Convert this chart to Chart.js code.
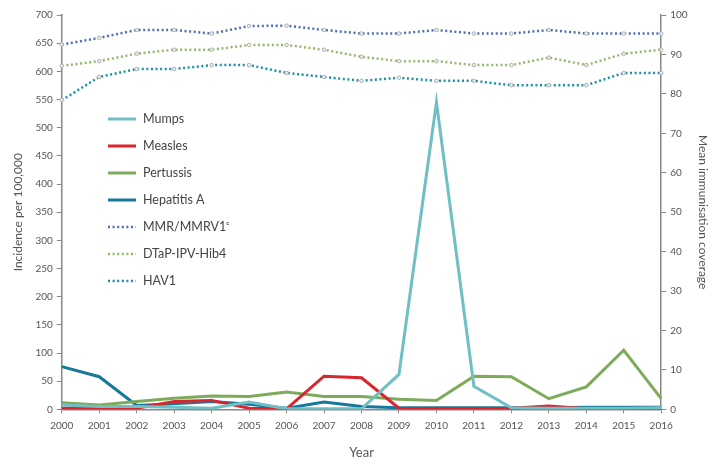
<!DOCTYPE html>
<html><head><meta charset="utf-8">
<script src="https://cdn.jsdelivr.net/npm/chart.js@4/dist/chart.umd.min.js"></script>
<style>html,body{margin:0;padding:0;background:#fff}#w{width:725px;height:465px}</style>
</head><body><div id="w"><canvas id="c"></canvas></div>
<script>
const years = ['2000','2001','2002','2003','2004','2005','2006','2007','2008','2009','2010','2011','2012','2013','2014','2015','2016'];
const mumps     = [8,5,5,4,2,13,1,1,1,62,545,41,3,2,2,2,3];
const measles   = [2,2,2,14,16,2,1,59,56,2,1,1,2,6,1,1,1];
const pertussis = [12,8,14,20,24,23,31,23,23,18,16,59,58,19,40,105,19];
const hepA      = [76,58,7,10,14,9,2,13,5,3,3,3,3,3,4,4,4];
const mmr  = [92.5,94.2,96.2,96.2,95.3,97.2,97.3,96.2,95.3,95.3,96.2,95.3,95.3,96.2,95.3,95.3,95.3];
const dtap = [87.1,88.3,90.2,91.2,91.2,92.4,92.4,91.2,89.4,88.3,88.3,87.3,87.3,89.2,87.3,90.2,91.2];
const hav  = [78.4,84.3,86.3,86.3,87.3,87.3,85.3,84.3,83.3,84.1,83.3,83.3,82.2,82.2,82.2,85.3,85.3];
const leftTicks = [0,50,100,150,200,250,300,350,400,450,500,550,600,650,700];
const rightTicks = [0,10,20,30,40,50,60,70,80,90,100];

const FONT = 'Lato';
const TXT = '#555';
function solid(label, data, color){
  return {label, data, borderColor: color, backgroundColor: color, borderWidth: 3, pointRadius: 0, tension: 0, yAxisID: 'y', fill: false};
}
function dotted(label, data, color){
  return {label, data, borderColor: color, backgroundColor: '#fff', borderWidth: 2.5, borderDash: [2,2.6], pointRadius: 1.8, pointBorderColor: '#b0b0b0', pointBorderWidth: 1, pointBackgroundColor: '#eee', tension: 0, yAxisID: 'y1', fill: false};
}
const legendPlugin = {
  id: 'inlegend',
  afterDraw(chart){
    const ctx = chart.ctx;
    ctx.save();
    const x0 = 108, x1 = 136, tx = 143;
    let y = 119;
    chart.data.datasets.forEach(ds => {
      ctx.beginPath();
      ctx.strokeStyle = ds.borderColor;
      ctx.lineWidth = ds.borderWidth;
      ctx.setLineDash(ds.borderDash || []);
      ctx.moveTo(x0, y); ctx.lineTo(x1, y); ctx.stroke();
      ctx.setLineDash([]);
      ctx.fillStyle = '#444';
      ctx.font = '12.5px ' + FONT;
      ctx.textBaseline = 'middle';
      ctx.fillText(ds.label, tx, y);
      y += 27;
    });
    ctx.restore();
  }
};
new Chart(document.getElementById('c'), {
  type: 'line',
  data: {
    labels: years,
    datasets: [
      solid('Mumps', mumps, '#6fbfc4'),
      solid('Measles', measles, '#d9262e'),
      solid('Pertussis', pertussis, '#7dab5b'),
      solid('Hepatitis A', hepA, '#16799b'),
      dotted('MMR/MMRV1ᶜ', mmr, '#4d6fb3'),
      dotted('DTaP-IPV-Hib4', dtap, '#93b86a'),
      dotted('HAV1', hav, '#1b8ea8')
    ]
  },
  options: {
    responsive: true, maintainAspectRatio: false, animation: false,
    layout: {padding: {left: 7, right: 9, top: 15, bottom: 0}},
    plugins: {legend: {display: false}, tooltip: {enabled: false}},
    scales: {
      x: {
        offset: false,
        grid: {drawOnChartArea: false, drawTicks: true, tickLength: 4, color: '#888'},
        border: {color: '#888', width: 1.5},
        ticks: {color: TXT, font: {family: FONT, size: 10}, maxRotation: 0, autoSkip: false, padding: 6},
        title: {display: true, text: 'Year', color: TXT, font: {family: FONT, size: 13}, padding: {top: 8}}
      },
      y: {
        position: 'left', min: 0, max: 700,
        afterBuildTicks(s){ s.ticks = leftTicks.map(v => ({value: v})); },
        grid: {drawOnChartArea: false, drawTicks: true, tickLength: 5, color: '#888'},
        border: {color: '#888', width: 1.5},
        ticks: {color: TXT, font: {family: FONT, size: 10}, padding: 4},
        title: {display: true, text: 'Incidence per 100,000', color: TXT, font: {family: FONT, size: 12}, padding: {bottom: 6}}
      },
      y1: {
        position: 'right', min: 0, max: 100,
        afterBuildTicks(s){ s.ticks = rightTicks.map(v => ({value: v})); },
        grid: {drawOnChartArea: false, drawTicks: true, tickLength: 5, color: '#888'},
        border: {color: '#888', width: 1.5},
        ticks: {color: TXT, font: {family: FONT, size: 10}, padding: 4},
        title: {display: true, text: 'Mean immunisation coverage', color: TXT, font: {family: FONT, size: 12}, padding: {top: 6}}
      }
    }
  },
  plugins: [legendPlugin]
});
</script></body></html>
